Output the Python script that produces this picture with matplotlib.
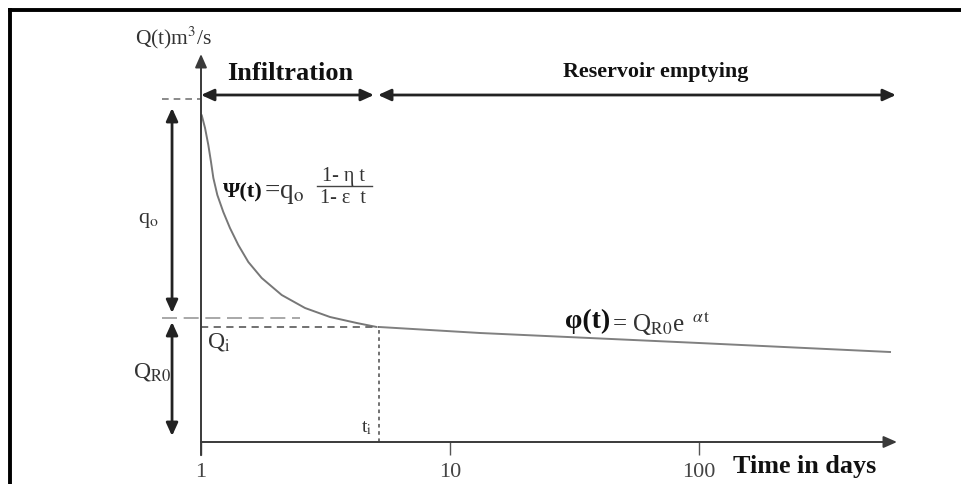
import matplotlib
matplotlib.use("Agg")
import matplotlib.pyplot as plt
from matplotlib.lines import Line2D
from matplotlib.ticker import NullLocator

plt.rcParams['font.family'] = ['Liberation Serif', 'DejaVu Serif']
plt.rcParams['mathtext.fontset'] = 'stix'

# === Values (t in days, Q in arbitrary units) ===
t_infil = [1.006, 1.038, 1.070, 1.097, 1.121, 1.163, 1.229, 1.307, 1.412,
           1.549, 1.753, 2.109, 2.617, 3.297, 4.221, 5.077]
q_infil = [3.27, 3.14, 2.97, 2.80, 2.64, 2.47, 2.30, 2.14, 1.97,
           1.80, 1.64, 1.47, 1.34, 1.25, 1.19, 1.15]
t_res = [5.2, 13.2, 100, 585]
q_res = [1.15, 1.09, 0.99, 0.90]

x_ticks = [1, 10, 100]
x_tick_labels = ["1", "10", "100"]

t_i = 5.2          # end of infiltration
q_i = 1.15         # Q_i
q_top = 3.425      # q0 + QR0 level
q_r0 = 1.24        # QR0 level
t_left = 0.70      # left end of the marker dashes
t_arrow = 0.765    # position of the vertical double arrows
t_phase_end = 618  # end of the "reservoir emptying" arrow
q_phase = 3.47     # height of the phase arrows

W, H = 962, 484


def P(x, y):
    # pixel -> figure fraction
    return x / W, 1 - y / H


fig = plt.figure(figsize=(W / 100, H / 100), dpi=100)
ax = fig.add_axes([201 / W, 1 - 442 / H, 696 / W, 388 / H])
ax.set_xscale('log')
ax.set_xlim(1, 10 ** (696 / 249))
ax.set_ylim(0, 3.88)
for s in ax.spines.values():
    s.set_visible(False)
ax.set_yticks([])
ax.set_xticks(x_ticks)
ax.set_xticklabels(x_tick_labels)
ax.xaxis.set_minor_locator(NullLocator())
ax.tick_params(axis='x', length=9, width=1, color='#555', pad=6,
               labelsize=16, labelcolor='#444')

axis_col = '#3a3a3a'
# axes with arrow heads
ax.annotate('', xy=(1, 0), xytext=(0, 0), xycoords='axes fraction',
            arrowprops=dict(arrowstyle='-|>,head_length=0.5,head_width=0.22',
                            lw=1.4, color=axis_col, mutation_scale=16,
                            shrinkA=0, shrinkB=0))
ax.annotate('', xy=(0, 1), xytext=(0, -0.034), xycoords='axes fraction',
            arrowprops=dict(arrowstyle='-|>,head_length=0.5,head_width=0.22',
                            lw=1.4, color=axis_col, mutation_scale=16,
                            shrinkA=0, shrinkB=0))

# curves
ax.plot(t_infil, q_infil, color='#777777', lw=1.4, solid_capstyle='round')
ax.plot(t_res, q_res, color='#808080', lw=1.4)

# dashed guides
ax.plot([1, t_i], [q_i, q_i], color='#666', lw=1.3, ls=(0, (4, 3)))
ax.plot([t_i, t_i], [0, q_i], color='#666', lw=1.3, ls=(0, (2, 2)))
ax.plot([t_left, 1], [q_top, q_top], color='#777', lw=1.2, ls=(0, (4, 3)),
        clip_on=False)
ax.plot([t_left, 2.5], [q_r0, q_r0], color='#999', lw=1.2,
        ls=(0, (9, 4)), clip_on=False)

# double arrows
arr = dict(arrowstyle='<|-|>,head_length=0.55,head_width=0.25', lw=2.0,
           color='#222', mutation_scale=14, shrinkA=0, shrinkB=0)
ax.annotate('', xy=(t_arrow, 3.34), xytext=(t_arrow, 1.29), arrowprops=arr,
            annotation_clip=False)
ax.annotate('', xy=(t_arrow, 1.20), xytext=(t_arrow, 0.06), arrowprops=arr,
            annotation_clip=False)
ax.annotate('', xy=(1.0, q_phase), xytext=(4.95, q_phase), arrowprops=arr,
            annotation_clip=False)
ax.annotate('', xy=(5.14, q_phase), xytext=(t_phase_end, q_phase),
            arrowprops=arr, annotation_clip=False)

# texts
dark = '#111111'
grey = '#333333'
fig.text(*P(135, 38), r"Q(t)m$^3$/s", fontsize=15.5, color=grey, va='center')
fig.text(*P(290, 73), "Infiltration", fontsize=19, fontweight='bold',
         color=dark, ha='center', va='center')
fig.text(*P(656, 72), "Reservoir emptying", fontsize=15.8, fontweight='bold',
         color=dark, ha='center', va='center')
fig.text(*P(733, 466), "Time in days", fontsize=18.8, fontweight='bold',
         color=dark, va='center')

fig.text(*P(138, 220), r"q$_{\mathrm{o}}$", fontsize=16, color=grey, va='center')
fig.text(*P(133, 372), r"Q$_{\mathrm{R0}}$", fontsize=17, color=grey, va='center')
fig.text(*P(207, 342), r"Q$_{\mathrm{i}}$", fontsize=17, color=grey, va='center')
fig.text(*P(361, 428), r"t$_{\mathrm{i}}$", fontsize=14, color=grey, va='center')

# Psi formula
fig.text(*P(223, 192), "Ψ(t)", fontsize=16, fontweight='bold', color=dark,
         va='center')
fig.text(*P(264, 193), r"=q$_{\mathrm{o}}$", fontsize=19.5, color=grey,
         va='center')
fig.text(*P(343, 177), "1- η t", fontsize=14.5, color=grey, ha='center',
         va='center')
fig.add_artist(Line2D([317 / W, 372 / W], [1 - 186 / H] * 2, color='#444',
                      lw=1.0))
fig.text(*P(343, 198), "1- ε  t", fontsize=14.5, color=grey, ha='center',
         va='center')

# phi formula
fig.text(*P(565, 321), "φ(t)", fontsize=20, fontweight='bold', color=dark,
         va='center')
fig.text(*P(612, 323), r"= Q$_{\mathrm{R0}}$e$^{\ \ \alpha \,\mathrm{t}}$",
         fontsize=18, color=grey, va='center')

# frame (top and left edges)
fig.add_artist(Line2D([10 / W, 1], [1 - 10 / H] * 2, color='black', lw=2.8))
fig.add_artist(Line2D([10 / W] * 2, [0, 1 - 10 / H], color='black', lw=2.8))

fig.savefig("out.png", dpi=100)
